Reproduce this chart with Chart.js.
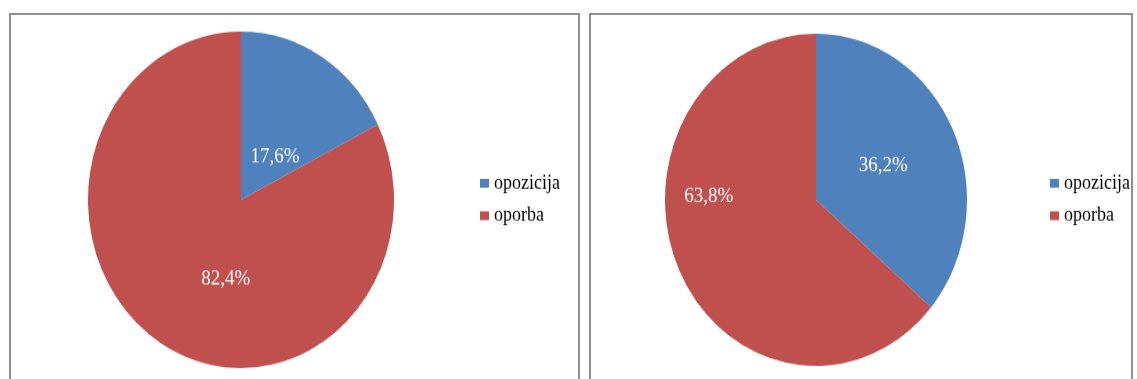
<!DOCTYPE html>
<html>
<head>
<meta charset="utf-8">
<script src="https://cdn.jsdelivr.net/npm/chart.js@4/dist/chart.umd.min.js"></script>
<style>
  body { margin: 0; background: #fff; width: 1137px; height: 379px; overflow: hidden; position: relative; }
  .panel { position: absolute; top: 13px; height: 400px; border: 2px solid #8f8f8f; border-bottom: none; overflow: hidden; background: #fff; }
  #panel1 { left: 9px; width: 567px; }
  #panel2 { left: 589px; width: 540px; }
  /* the pies are a touch taller than wide */
  .panel canvas { position: absolute; left: 0; top: 0; transform: scaleY(1.1); transform-origin: 0 0; }
</style>
</head>
<body>
<div class="panel" id="panel1"><canvas id="pie1" width="567" height="340"></canvas></div>
<div class="panel" id="panel2"><canvas id="pie2" width="540" height="340"></canvas></div>
<script>
// Data
const categories = ['opozicija', 'oporba'];
const shareA = [17.6, 82.4];
const shareB = [36.2, 63.8];
const colors = ['#4F81BD', '#C0504D'];

const serif = "'Liberation Serif', 'Times New Roman', serif";

// Percent labels inside slices + legend on the right side
const pieText = {
  id: 'pieText',
  afterDraw(chart, args, opts) {
    const ctx = chart.ctx;
    const meta = chart.getDatasetMeta(0);
    const values = chart.data.datasets[0].data;
    ctx.save();
    ctx.font = '19px ' + serif;
    ctx.fillStyle = '#fff';
    ctx.textAlign = 'center';
    ctx.textBaseline = 'middle';
    meta.data.forEach((arc, i) => {
      const p = opts.labelAt[i];
      const a = (p.a - 90) * Math.PI / 180;
      const r = arc.outerRadius * p.r;
      const text = values[i].toFixed(1).replace('.', ',') + '%';
      ctx.fillText(text, arc.x + Math.cos(a) * r, arc.y + Math.sin(a) * r);
    });
    // legend
    ctx.font = '18px ' + serif;
    ctx.textAlign = 'left';
    chart.data.labels.forEach((lab, i) => {
      const y = opts.legendY + i * opts.legendGap;
      ctx.fillStyle = chart.data.datasets[0].backgroundColor[i];
      ctx.fillRect(opts.legendX, y - 4, 9, 8);
      ctx.fillStyle = '#000';
      ctx.fillText(lab, opts.legendX + 14, y);
    });
    ctx.restore();
  }
};

function makePie(id, values, padding, textOpts) {
  return new Chart(document.getElementById(id), {
    type: 'pie',
    data: {
      labels: categories,
      datasets: [{
        data: values,
        backgroundColor: colors,
        borderWidth: 0,
        hoverBorderWidth: 0,
        hoverOffset: 0
      }]
    },
    options: {
      responsive: false,
      animation: false,
      events: [],
      layout: { padding: padding },
      plugins: {
        legend: { display: false },
        tooltip: { enabled: false },
        pieText: textOpts
      }
    },
    plugins: [pieText]
  });
}

makePie('pie1', shareA, { left: 77, right: 184, top: 15, bottom: 19 }, {
  labelAt: [{ a: 41, r: 0.34 }, { a: 192, r: 0.48 }],
  legendX: 469, legendY: 153, legendGap: 29.5
});

makePie('pie2', shareB, { left: 74, right: 164, top: 17, bottom: 21 }, {
  labelAt: [{ a: 65.5, r: 0.49 }, { a: 271.4, r: 0.71 }],
  legendX: 459, legendY: 153, legendGap: 29.5
});
</script>
</body>
</html>
